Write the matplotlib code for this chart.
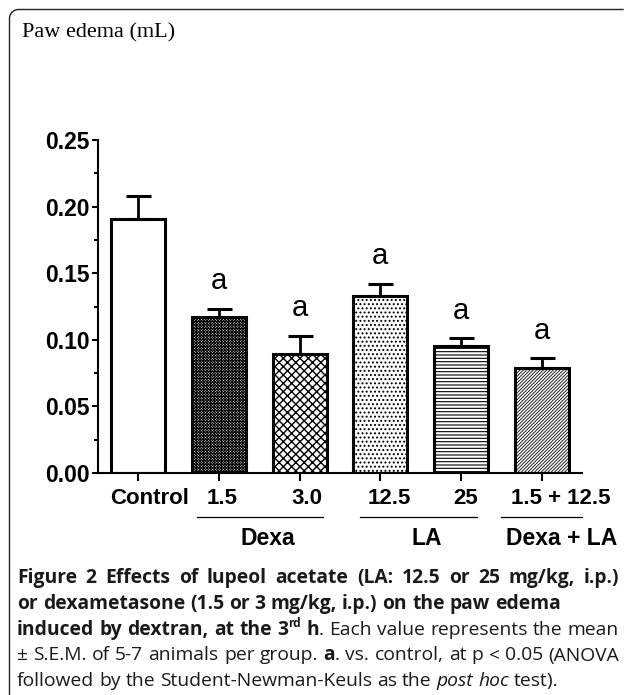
import numpy as np
import matplotlib
matplotlib.use("Agg")
import matplotlib.pyplot as plt
from matplotlib.lines import Line2D
from matplotlib.transforms import ScaledTranslation, blended_transform_factory

# ---------- data ----------
groups = ["Control", "1.5", "3.0", "12.5", "25", "1.5 + 12.5"]
means = [0.191, 0.117, 0.089, 0.133, 0.095, 0.079]
sem = [0.017, 0.006, 0.014, 0.009, 0.006, 0.007]
signif = ["", "a", "a", "a", "a", "a"]
hatches = ["", "x" * 12, "xxxx", "....", "-----", "/" * 10]
hatch_lw = [0.8, 0.7, 1.0, 0.9, 0.8, 0.6]
label_shift_px = [11, 3, 7, 9, 5, 19]          # labels sit a bit right of ticks
treatments = ["Dexa", "LA", "Dexa + LA"]
treat_span = [(0.73, 2.29), (2.75, 4.20), (4.49, 5.50)]
treat_label_x = [1.60, 3.57, 5.25]

plt.rcParams["hatch.color"] = "black"
plt.rcParams["hatch.linewidth"] = 0.8

W, H = 625, 695
fig = plt.figure(figsize=(W / 100, H / 100), dpi=100)
ax = fig.add_axes([98 / W, 1 - 473 / H, (582 - 98) / W, (473 - 140) / H])

x = np.arange(len(groups))
bars = ax.bar(x, means, width=0.67, color="white", edgecolor="black",
              linewidth=2.2, zorder=2)
for b, h, lw in zip(bars, hatches, hatch_lw):
    b.set_hatch(h)
    try:
        b.set_hatch_linewidth(lw)
    except AttributeError:
        pass

ax.errorbar(x, means, yerr=[np.zeros(len(sem)), sem], fmt="none",
            ecolor="black", elinewidth=2.0, capsize=9, capthick=2.2, zorder=3)

for xi, m, s, t in zip(x, means, sem, signif):
    if t:
        ax.annotate(t, (xi, m + s), xytext=(0, 10), textcoords="offset points",
                    ha="center", va="bottom", fontsize=21,
                    family="Liberation Sans")

# ---------- axes cosmetics ----------
ax.set_xlim(-0.5, 5.5)
ax.set_ylim(0, 0.25)
for side in ["top", "right"]:
    ax.spines[side].set_visible(False)
for side in ["left", "bottom"]:
    ax.spines[side].set_linewidth(1.5)

ax.set_yticks(np.arange(0, 0.26, 0.05))
ax.set_yticklabels([f"{v:.2f}" for v in np.arange(0, 0.26, 0.05)])
ax.set_yticks(np.arange(0.025, 0.25, 0.05), minor=True)
ax.tick_params(axis="y", which="major", length=4.5, width=1.5, pad=1.5)
ax.tick_params(axis="y", which="minor", length=3, width=1.5)
ax.tick_params(axis="x", which="major", length=6, width=1.5, pad=5)
for lab in ax.get_yticklabels():
    lab.set_fontfamily("Liberation Sans")
    lab.set_fontweight("bold")
    lab.set_fontsize(16.5)

ax.set_xticks(x)
ax.set_xticklabels(groups, fontsize=16, fontweight="bold",
                   family="Liberation Sans")
for lab, dx in zip(ax.get_xticklabels(), label_shift_px):
    lab.set_transform(lab.get_transform()
                      + ScaledTranslation(dx / 100, 0, fig.dpi_scale_trans))

# treatment brackets under the tick labels
tr = blended_transform_factory(ax.transData, ax.transAxes)
for name, (x0, x1), lx in zip(treatments, treat_span, treat_label_x):
    ax.plot([x0, x1], [-0.132, -0.132], color="black", lw=0.9,
            transform=tr, clip_on=False)
    ax.text(lx, -0.198, name, transform=tr, ha="center", va="center",
            fontsize=16.5, fontweight="bold", family="Liberation Sans")

# ---------- page furniture ----------
# open frame: left and top rule joined by a rounded corner (inches)
fx, fy, r = 0.095, 6.855, 0.09
ang = np.linspace(np.pi, np.pi / 2, 12)
fxs = np.concatenate([[fx], fx + r + r * np.cos(ang), [6.23]])
fys = np.concatenate([[0.0], fy - r + r * np.sin(ang), [fy]])
fig.add_artist(Line2D(fxs, fys, transform=fig.dpi_scale_trans,
                      color="#222222", linewidth=1.0))

fig.text(22 / W, 1 - 37 / H, "Paw edema (mL)", ha="left", va="baseline",
         fontsize=16, family="Liberation Serif")

# caption, drawn piece by piece
cap_font = "Open Sans"
cap_color = "#1a1a1a"
renderer = fig.canvas.get_renderer()


def advance(s, size, weight, style):
    def w(txt):
        t = fig.text(0, 0, txt, fontsize=size, family=cap_font,
                     fontweight=weight, fontstyle=style)
        v = t.get_window_extent(renderer).width
        t.remove()
        return v
    return w("|" + s + "|") - w("||")


caption = [
    [("Figure 2 Effects of lupeol acetate (LA: 12.5 or 25 mg/kg, i.p.)", "bold", "normal", False)],
    [("or dexametasone (1.5 or 3 mg/kg, i.p.) on the paw edema", "bold", "normal", False)],
    [("induced by dextran, at the 3", "bold", "normal", False),
     ("rd", "bold", "normal", True),
     (" h", "bold", "normal", False),
     (". Each value represents the mean", "normal", "normal", False)],
    [("\u00b1 S.E.M. of 5-7 animals per group. ", "normal", "normal", False),
     ("a", "bold", "normal", False),
     (". vs. control, at p < 0.05 (ANOVA", "normal", "normal", False)],
    [("followed by the Student-Newman-Keuls as the ", "normal", "normal", False),
     ("post hoc", "normal", "italic", False),
     (" test).", "normal", "normal", False)],
]
justify = [True, False, True, True, False]

# fit the font size so the fourth line fills the column width
ref = sum(advance(s, 10, wt, st) for s, wt, st, sup in caption[3])
cap_size = 10 * 600 / ref

left, right = 17, 619
baselines = [583, 609, 635, 660.5, 686]
for line, yb, just in zip(caption, baselines, justify):
    sizes = [cap_size * (0.62 if sup else 1.0) for s, wt, st, sup in line]
    natural = sum(advance(s, sz, wt, st)
                  for (s, wt, st, sup), sz in zip(line, sizes))
    n_sp = sum(s.count(" ") for s, wt, st, sup in line)
    extra = (right - left - natural) / n_sp if (just and n_sp) else 0
    xp = left
    for (s, wt, st, sup), size in zip(line, sizes):
        yy = yb - (0.42 * cap_size / 0.72 if sup else 0)
        # draw word by word so spaces can be stretched
        words = s.split(" ")
        for i, wd in enumerate(words):
            if wd:
                fig.text(xp / W, 1 - yy / H, wd, ha="left", va="baseline",
                         fontsize=size, family=cap_font, fontweight=wt,
                         fontstyle=st, color=cap_color)
                xp += advance(wd, size, wt, st)
            if i < len(words) - 1:
                xp += advance(" ", size, wt, st) + extra

fig.savefig("out.png", dpi=100)
